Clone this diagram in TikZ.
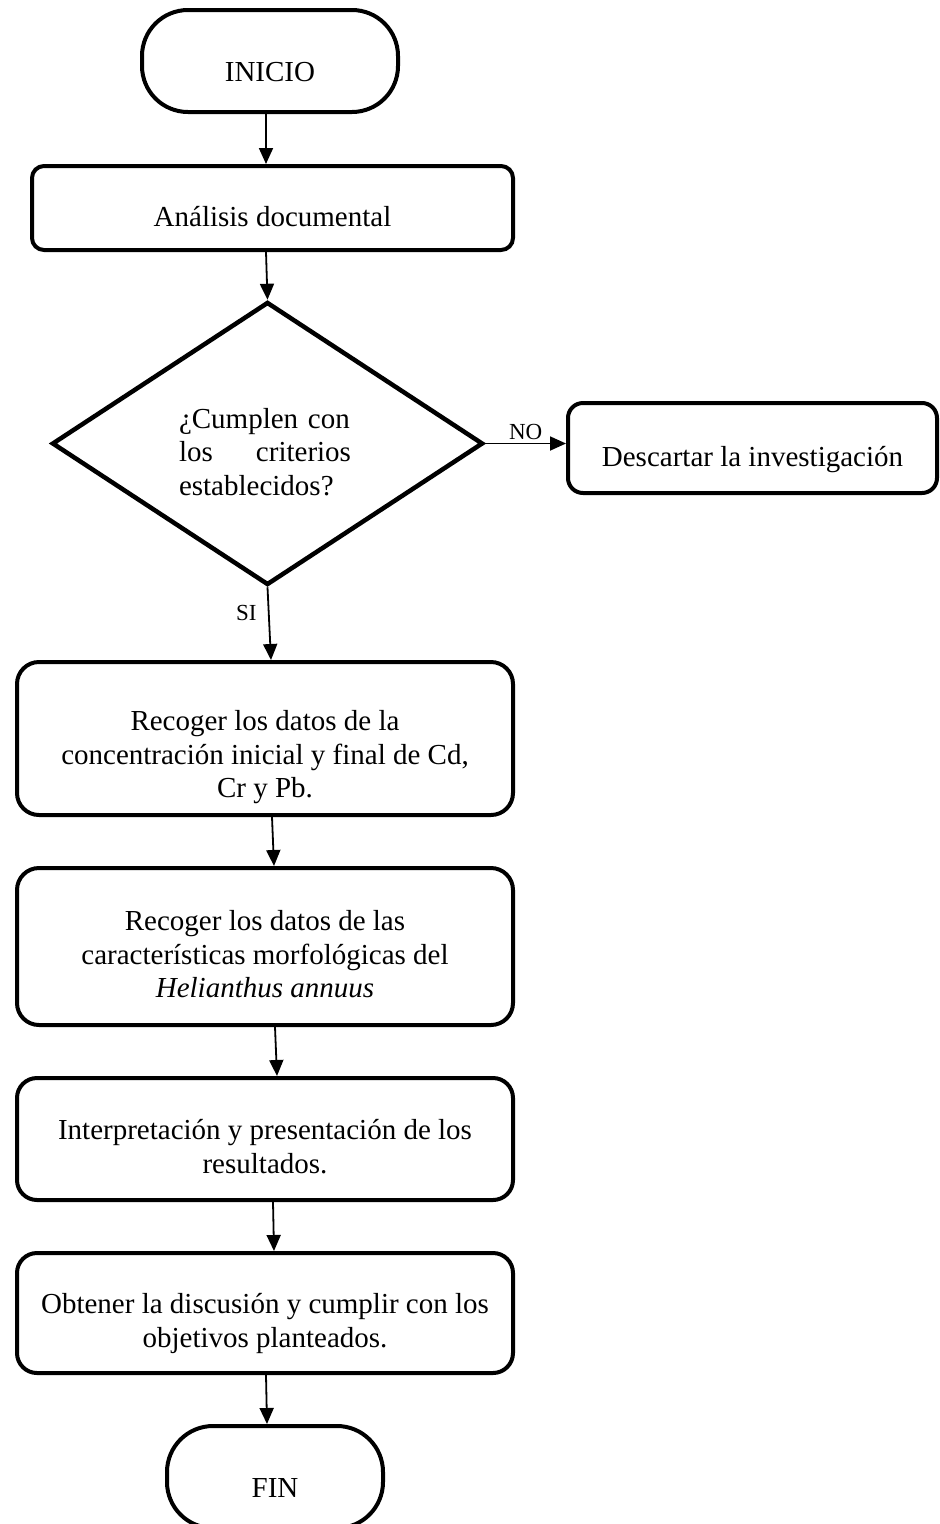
\documentclass[tikz,border=0pt]{standalone}
\usepackage{fontspec}
\setmainfont{Liberation Serif}
\usetikzlibrary{shapes.geometric,arrows.meta}

% texto de las cajas, algo mas abajo del centro
\newcommand{\textoBajo}[2][12pt]{\raisebox{-#1}[\height][\depth]{\begin{tabular}{@{}c@{}}#2\end{tabular}}}

\begin{document}
\begin{tikzpicture}[x=1pt,y=-1pt,
    every node/.style={font=\fontsize{29}{33.5}\selectfont},
    terminal/.style={draw, line width=4pt, rounded corners=46pt, minimum height=102pt, inner sep=0pt},
    proceso/.style={draw, line width=4pt, rounded corners=22pt, minimum width=496pt, inner sep=0pt},
    decision/.style={draw, diamond, line width=4.5pt, minimum width=431pt, minimum height=283pt, inner sep=0pt},
    etiqueta/.style={font=\fontsize{23}{26}\selectfont},
    flecha/.style={line width=1.8pt, -{Triangle[length=16pt,width=14pt]}}]

    % Marco de la figura
    \useasboundingbox (0,0) rectangle (940,1524);

    % Inicio y analisis
    \node[terminal, minimum width=256pt] (inicio) at (270,61) {\textoBajo[14pt]{INICIO}};
    \node[proceso, minimum width=481pt, minimum height=84pt, rounded corners=12pt] (analisis) at (272.5,208) {\textoBajo{Análisis documental}};

    % Decision
    \node[decision] (cumple) at (267.5,443.5) {};
    \node[text width=172pt, align=left] (pregunta) at (265,452) {\mbox{¿Cumplen con}\\\makebox[172pt][s]{los\hfill criterios}\\establecidos?};
    \node[proceso, minimum width=369pt, minimum height=90pt, rounded corners=15pt] (descartar) at (752.5,448) {\textoBajo{Descartar la investigación}};

    % Pasos del procedimiento
    \node[proceso, minimum height=153pt] (recogerCon) at (265,738.5) {\textoBajo[19pt]{Recoger los datos de la\\concentración inicial y final de Cd,\\Cr y Pb.}};
    \node[proceso, minimum height=157pt] (recogerMorf) at (265,946.5) {\textoBajo[11pt]{Recoger los datos de las\\características morfológicas del\\\textit{Helianthus annuus}}};
    \node[proceso, minimum height=122pt, rounded corners=20pt] (interpretacion) at (265,1139) {\textoBajo[11pt]{Interpretación y presentación de los\\resultados.}};
    \node[proceso, minimum height=120pt, rounded corners=20pt] (obtener) at (265,1313) {\textoBajo[11pt]{Obtener la discusión y cumplir con los\\objetivos planteados.}};
    \node[terminal, minimum width=216pt] (fin) at (275,1477) {\textoBajo[14pt]{FIN}};

    % Conectores
    \draw[flecha] ([xshift=-4]inicio.south) -- ([xshift=-6.5]analisis.north);
    \draw[flecha] ([xshift=-6.5]analisis.south) -- (cumple.north);
    \draw[flecha] (cumple.east) -- (cumple.east -| descartar.west) node[etiqueta, midway, above] (etNo) {NO};
    \draw[flecha] (cumple.south) -- ([xshift=6]recogerCon.north) node[etiqueta, pos=0.35, left=8pt] (etSi) {SI};
    \foreach \desde/\hasta/\sa/\sb in {recogerCon/recogerMorf/7/9, recogerMorf/interpretacion/10/12, interpretacion/obtener/8/9}
        \draw[flecha] ([xshift=\sa]\desde.south) -- ([xshift=\sb]\hasta.north);
    \draw[flecha] ([xshift=1]obtener.south) -- ([xshift=-8]fin.north);

\end{tikzpicture}
\end{document}
